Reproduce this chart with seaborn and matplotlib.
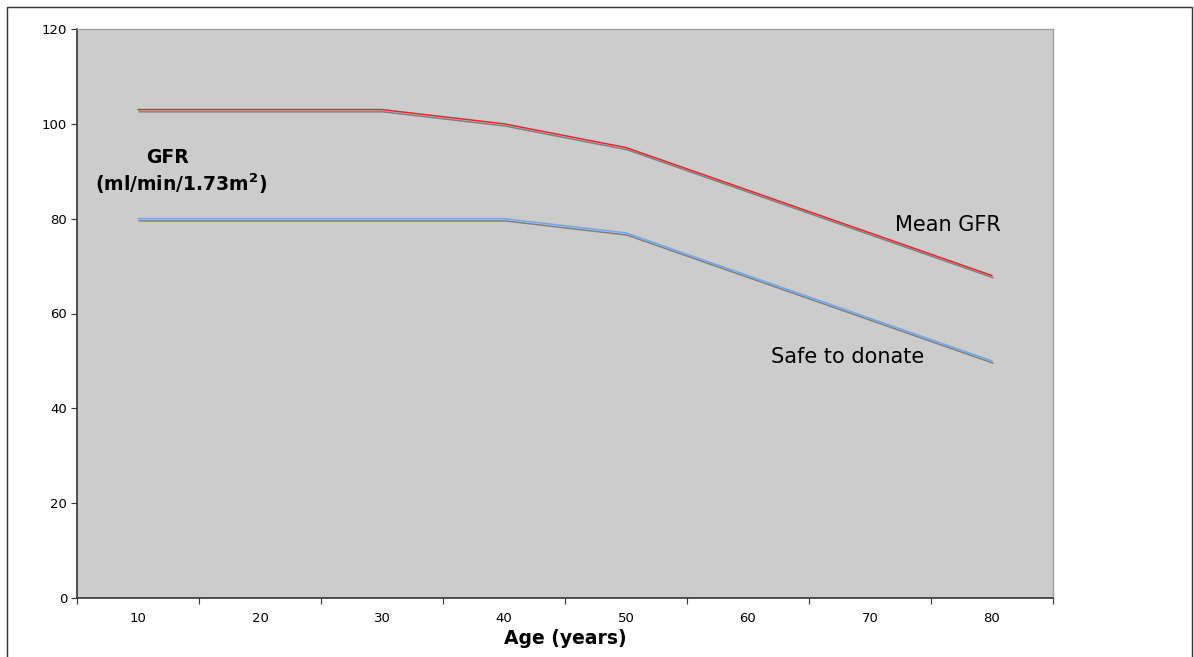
import pandas as pd
import seaborn as sns
import matplotlib.pyplot as plt
import matplotlib.patheffects as pe
from matplotlib.patches import Rectangle

# GFR by age
ages = ['10', '20', '30', '40', '50', '60', '70', '80']
mean_gfr = [103, 103, 103, 100, 95, 86, 77, 68]
safe_gfr = [80, 80, 80, 80, 77, 68, 59, 50]
y_ticks = [0, 20, 40, 60, 80, 100, 120]

pos = list(range(len(ages)))
dtf = pd.DataFrame({'pos': pos, 'Age': ages, 'Mean': mean_gfr, 'Safe': safe_gfr})

sns.set_style('white')
plt.rcParams['font.family'] = ['DejaVu Sans']
plt.rcParams['text.color'] = 'black'
plt.rcParams['axes.labelcolor'] = 'black'
plt.rcParams['xtick.color'] = 'black'
plt.rcParams['ytick.color'] = 'black'

fig = plt.figure(figsize=(11.94, 6.57), dpi=100)
ax = fig.add_axes([77 / 1194, 1 - 598 / 657, (1053 - 77) / 1194, (598 - 29) / 657])
ax.set_facecolor('#cccccc')

shadow = [pe.SimpleLineShadow(offset=(0.8, -1.6), shadow_color='#808080', alpha=1.0),
          pe.Normal()]
sns.lineplot(data=dtf, x='pos', y='Mean', ax=ax, color='#e8262b', lw=1.1,
             path_effects=shadow)
sns.lineplot(data=dtf, x='pos', y='Safe', ax=ax, color='#6fa8f0', lw=1.1,
             path_effects=shadow)

ax.set_xlim(-0.5, len(ages) - 0.5)
ax.set_ylim(0, 120)
ax.set_yticks(y_ticks)
ax.set_yticklabels([str(v) for v in y_ticks], fontsize=9.5)
ax.set_xticks(pos)
ax.set_xticklabels(ages, fontsize=9.5)
ax.set_xticks([p - 0.5 for p in pos] + [len(ages) - 0.5], minor=True)
ax.tick_params(axis='x', which='major', length=0, pad=10, bottom=True)
ax.tick_params(axis='x', which='minor', length=4, width=0.8, color='#333333',
               direction='out', bottom=True)
ax.tick_params(axis='y', length=4, width=0.8, color='#333333', direction='out',
               left=True, pad=3)
ax.set_xlabel('Age (years)', fontsize=13.5, fontweight='bold', labelpad=3)
ax.set_ylabel('')

for s in ['left', 'bottom']:
    ax.spines[s].set_color('#333333')
    ax.spines[s].set_linewidth(1.2)
for s in ['top', 'right']:
    ax.spines[s].set_color('#a0a0a0')
    ax.spines[s].set_linewidth(1.0)

ax.text(0.24, 93.0, 'GFR', fontsize=13.5, fontweight='bold', ha='center', va='center')
ax.text(0.35, 87.3, '(ml/min/1.73m$^\\mathbf{2}$)', fontsize=13.5, fontweight='bold',
        ha='center', va='center')
ax.text(6.64, 78.7, 'Mean GFR', fontsize=15, ha='center', va='center')
ax.text(5.82, 50.8, 'Safe to donate', fontsize=15, ha='center', va='center')

# outer frame
fig.patches.append(Rectangle((7 / 1194, -0.01), (1192 - 7) / 1194, 1 - 7 / 657 + 0.01,
                             transform=fig.transFigure, fill=False,
                             edgecolor='#333333', lw=1.0))

fig.savefig('out.png', dpi=100)
